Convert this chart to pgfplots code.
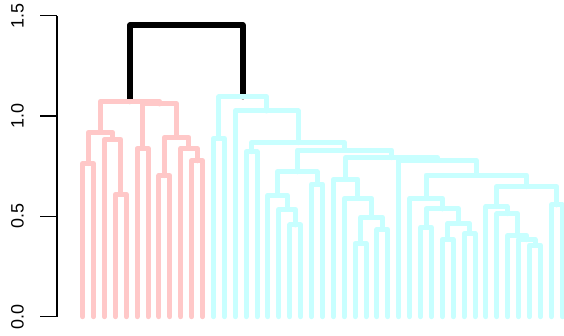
\documentclass[border=0pt]{standalone}
\usepackage{fontspec}
\setmainfont{Liberation Sans}
\usepackage{pgfplots}
\pgfplotsset{compat=1.18}
\definecolor{grpA}{RGB}{255,200,200}
\definecolor{grpB}{RGB}{200,255,255}
\begin{document}
\begin{tikzpicture}
\path[use as bounding box] (-57.3bp,0) rectangle (506.7bp,336bp);
\begin{axis}[
  at={(0,0)}, anchor=south west,
  scale only axis, width=506.7bp, height=336bp,
  xmin=-1.33, xmax=45.16, ymin=-0.0962, ymax=1.578,
  clip=false,
  hide x axis,
  axis y line*=left,
  y axis line style={draw=none},
  ytick={0,0.5,1,1.5},
  yticklabels={0.0,0.5,1.0,1.5},
  tick align=outside,
  major tick length=17bp,
  every tick/.style={black, line width=1.6bp},
  yticklabel shift=13bp,
  yticklabel style={rotate=90, anchor=south, font=\fontsize{18}{21}\selectfont},
  tree/.style={line width=5bp, line cap=round, line join=round, no markers},
  top/.style={line width=5.5bp, line cap=round, line join=round, no markers, black},
]
% y axis line from 0 to 1.5
\draw[black, line width=1.6bp] (axis cs:-1.33,0) -- (axis cs:-1.33,1.5);

% root merge
\addplot[top] coordinates {(5.34375,1.073) (5.34375,1.453) (15.6893,1.453) (15.6893,1.096)};

% first cluster (leaves 1-12)
\addplot[tree, grpA] coordinates {(2.625,0.918) (2.625,1.073) (8.0625,1.073) (8.0625,1.06)};
\addplot[tree, grpA] coordinates {(1.5,0.763) (1.5,0.918) (3.75,0.918) (3.75,0.884)};
\addplot[tree, grpA] coordinates {(1,0) (1,0.763) (2,0.763) (2,0)};
\addplot[tree, grpA] coordinates {(3,0) (3,0.884) (4.5,0.884) (4.5,0.61)};
\addplot[tree, grpA] coordinates {(4,0) (4,0.61) (5,0.61) (5,0)};
\addplot[tree, grpA] coordinates {(6.5,0.839) (6.5,1.06) (9.625,1.06) (9.625,0.894)};
\addplot[tree, grpA] coordinates {(6,0) (6,0.839) (7,0.839) (7,0)};
\addplot[tree, grpA] coordinates {(8.5,0.703) (8.5,0.894) (10.75,0.894) (10.75,0.839)};
\addplot[tree, grpA] coordinates {(8,0) (8,0.703) (9,0.703) (9,0)};
\addplot[tree, grpA] coordinates {(10,0) (10,0.839) (11.5,0.839) (11.5,0.777)};
\addplot[tree, grpA] coordinates {(11,0) (11,0.777) (12,0.777) (12,0)};

% second cluster (leaves 13-45)
\addplot[tree, grpB] coordinates {(13.5,0.889) (13.5,1.096) (17.8787,1.096) (17.8787,1.025)};
\addplot[tree, grpB] coordinates {(13,0) (13,0.889) (14,0.889) (14,0)};
\addplot[tree, grpB] coordinates {(15,0) (15,1.025) (20.7573,1.025) (20.7573,0.867)};
\addplot[tree, grpB] coordinates {(16.5,0.822) (16.5,0.867) (25.0146,0.867) (25.0146,0.83)};
\addplot[tree, grpB] coordinates {(16,0) (16,0.822) (17,0.822) (17,0)};
\addplot[tree, grpB] coordinates {(20.6875,0.722) (20.6875,0.83) (29.3418,0.83) (29.3418,0.792)};
\addplot[tree, grpB] coordinates {(18.875,0.606) (18.875,0.722) (22.5,0.722) (22.5,0.661)};
\addplot[tree, grpB] coordinates {(18,0) (18,0.606) (19.75,0.606) (19.75,0.535)};
\addplot[tree, grpB] coordinates {(19,0) (19,0.535) (20.5,0.535) (20.5,0.457)};
\addplot[tree, grpB] coordinates {(20,0) (20,0.457) (21,0.457) (21,0)};
\addplot[tree, grpB] coordinates {(22,0) (22,0.661) (23,0.661) (23,0)};
\addplot[tree, grpB] coordinates {(25.125,0.685) (25.125,0.792) (33.5586,0.792) (33.5586,0.779)};
\addplot[tree, grpB] coordinates {(24,0) (24,0.685) (26.25,0.685) (26.25,0.59)};
\addplot[tree, grpB] coordinates {(25,0) (25,0.59) (27.5,0.59) (27.5,0.495)};
\addplot[tree, grpB] coordinates {(26.5,0.366) (26.5,0.495) (28.5,0.495) (28.5,0.435)};
\addplot[tree, grpB] coordinates {(26,0) (26,0.366) (27,0.366) (27,0)};
\addplot[tree, grpB] coordinates {(28,0) (28,0.435) (29,0.435) (29,0)};
\addplot[tree, grpB] coordinates {(30,0) (30,0.779) (37.1172,0.779) (37.1172,0.706)};
\addplot[tree, grpB] coordinates {(32.5,0.59) (32.5,0.706) (41.7344,0.706) (41.7344,0.648)};
\addplot[tree, grpB] coordinates {(31,0) (31,0.59) (34,0.59) (34,0.537)};
\addplot[tree, grpB] coordinates {(32.5,0.445) (32.5,0.537) (35.5,0.537) (35.5,0.466)};
\addplot[tree, grpB] coordinates {(32,0) (32,0.445) (33,0.445) (33,0)};
\addplot[tree, grpB] coordinates {(34.5,0.386) (34.5,0.466) (36.5,0.466) (36.5,0.415)};
\addplot[tree, grpB] coordinates {(34,0) (34,0.386) (35,0.386) (35,0)};
\addplot[tree, grpB] coordinates {(36,0) (36,0.415) (37,0.415) (37,0)};
\addplot[tree, grpB] coordinates {(38.9688,0.549) (38.9688,0.648) (44.5,0.648) (44.5,0.557)};
\addplot[tree, grpB] coordinates {(38,0) (38,0.549) (39.9375,0.549) (39.9375,0.513)};
\addplot[tree, grpB] coordinates {(39,0) (39,0.513) (40.875,0.513) (40.875,0.405)};
\addplot[tree, grpB] coordinates {(40,0) (40,0.405) (41.75,0.405) (41.75,0.384)};
\addplot[tree, grpB] coordinates {(41,0) (41,0.384) (42.5,0.384) (42.5,0.357)};
\addplot[tree, grpB] coordinates {(42,0) (42,0.357) (43,0.357) (43,0)};
\addplot[tree, grpB] coordinates {(44,0) (44,0.557) (45,0.557) (45,0)};
\end{axis}
\end{tikzpicture}
\end{document}
